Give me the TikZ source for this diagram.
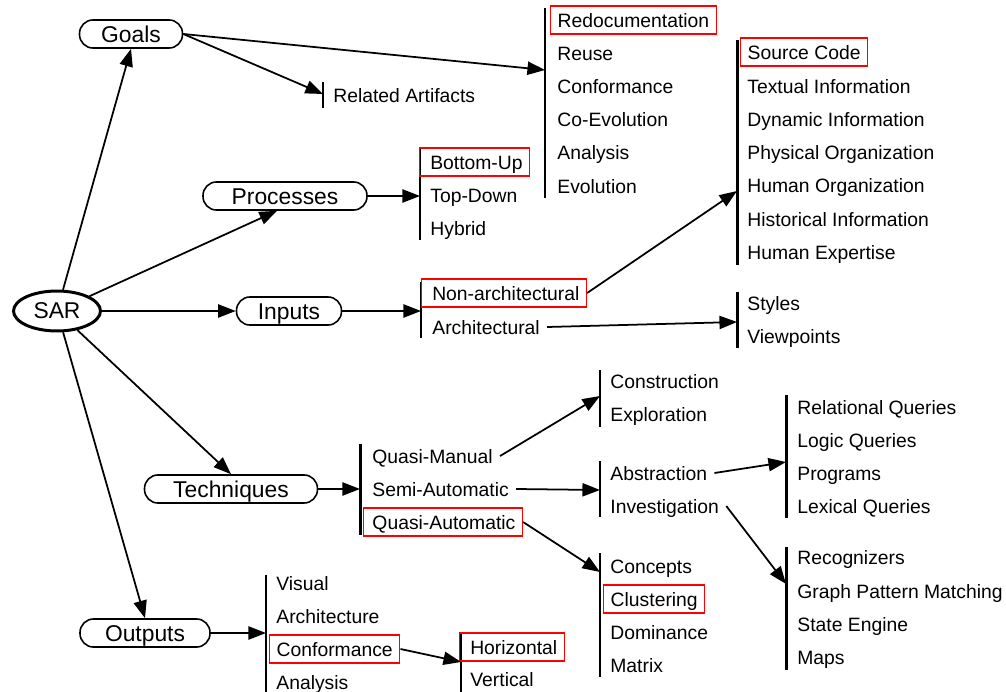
\documentclass[tikz,border=0pt]{standalone}
\usepackage{fontspec}
\setmainfont{Liberation Sans}
\usetikzlibrary{arrows.meta, shapes.geometric, positioning}

\tikzset{
  item/.style={anchor=west, inner xsep=4pt, inner ysep=4pt, text height=8pt, text depth=0pt, font=\fontsize{11}{13}\selectfont},
  hilite/.style={draw=red, line width=0.8pt},
  oval/.style={draw, rectangle, rounded corners=0.27cm, minimum height=0.56cm, inner xsep=0pt, line width=0.9pt, text height=9.3pt, text depth=0pt, font=\fontsize{13}{15}\selectfont},
  link/.style={-{Triangle[length=10pt,width=7.5pt]}, line width=1pt},
  thinbar/.style={line width=0.9pt},
  thickbar/.style={line width=1.7pt}
}

\begin{document}
\begin{tikzpicture}[x=0.02cm, y=-0.02cm]
  \useasboundingbox (0,0) rectangle (1006,692);

  % main nodes
  \node[draw, ellipse, line width=1.7pt, minimum width=1.74cm, minimum height=0.8cm, inner sep=0pt, font=\fontsize{13}{15}\selectfont] (sar) at (57,311) {SAR};
  \node[oval, minimum width=2.06cm] (goals) at (131,34) {Goals};
  \node[oval, minimum width=3.28cm] (processes) at (285,196) {Processes};
  \node[oval, minimum width=2.1cm] (inputs) at (289,311) {Inputs};
  \node[oval, minimum width=3.46cm] (techniques) at (231,489) {Techniques};
  \node[oval, minimum width=2.6cm] (outputs) at (145,633) {Outputs};

  % goals
  \draw[thinbar] (545,8) -- (545,198);
  \node[item, hilite] (redoc) at (550,20) {Redocumentation};
  \node[item] (reuse) at (550,53) {Reuse};
  \node[item] (goalconf) at (550,86) {Conformance};
  \node[item] (coevol) at (550,119) {Co-Evolution};
  \node[item] (goalanal) at (550,152) {Analysis};
  \node[item] (evol) at (550,186) {Evolution};
  \draw[thinbar] (323,82) -- (323,108);
  \node[item] (related) at (326,95) {Related Artifacts};

  % processes
  \draw[thinbar] (420,149) -- (420,240);
  \node[item, hilite] (bottomup) at (419,162) {\hspace{2pt}Bottom-Up};
  \node[item] (topdown) at (423,195) {Top-Down};
  \node[item] (hybrid) at (423,228) {Hybrid};

  % inputs
  \draw[thinbar] (421,282) -- (421,338);
  \node[item, hilite] (nonarch) at (421,293) {\hspace{2pt}Non-architectural};
  \node[item] (arch) at (425,327) {Architectural};
  \draw[thickbar] (737,40) -- (737,265);
  \node[item, hilite] (source) at (740,52) {Source Code};
  \node[item] (textual) at (740,86) {Textual Information};
  \node[item] (dynamic) at (740,119) {Dynamic Information};
  \node[item] (physical) at (740,152) {Physical Organization};
  \node[item] (humanorg) at (740,185) {Human Organization};
  \node[item] (historical) at (740,219) {Historical Information};
  \node[item] (expertise) at (740,252) {Human Expertise};
  \draw[thickbar] (737,292) -- (737,348);
  \node[item] (styles) at (740,303) {Styles};
  \node[item] (viewpoints) at (740,336) {Viewpoints};

  % techniques
  \draw[thickbar] (360,444) -- (360,535);
  \node[item] (quasiman) at (365,456) {Quasi-Manual};
  \node[item] (semiauto) at (365,489) {Semi-Automatic};
  \node[item, hilite] (quasiauto) at (363,522) {\hspace{1pt}Quasi-Automatic};
  \draw[thinbar] (600,370) -- (600,427);
  \node[item] (construction) at (603,381) {Construction};
  \node[item] (exploration) at (603,414) {Exploration};
  \draw[thinbar] (600,461) -- (600,517);
  \node[item] (abstraction) at (603,473) {Abstraction};
  \node[item] (investigation) at (603,506) {Investigation};
  \draw[thinbar] (600,553) -- (600,677);
  \node[item] (concepts) at (603,566) {Concepts};
  \node[item, hilite] (clustering) at (603,599) {Clustering};
  \node[item] (dominance) at (603,632) {Dominance};
  \node[item] (matrix) at (603,665) {Matrix};
  \draw[thickbar] (786,395) -- (786,518);
  \node[item] (relational) at (790,407) {Relational Queries};
  \node[item] (logic) at (790,440) {Logic Queries};
  \node[item] (programs) at (790,473) {Programs};
  \node[item] (lexical) at (790,506) {Lexical Queries};
  \draw[thickbar] (786,547) -- (786,670);
  \node[item] (recognizers) at (790,557) {Recognizers};
  \node[item] (graphmatch) at (790,591) {Graph Pattern Matching};
  \node[item] (stateengine) at (790,624) {State Engine};
  \node[item] (maps) at (790,657) {Maps};

  % outputs
  \draw[thinbar] (266,575) -- (266,692);
  \node[item] (visual) at (269,583) {Visual};
  \node[item] (architecture) at (269,616) {Architecture};
  \node[item, hilite] (outconf) at (269,649) {Conformance};
  \node[item] (outanal) at (269,682) {Analysis};
  \draw[thinbar] (461,633) -- (461,692);
  \node[item, hilite] (horizontal) at (459,647) {\hspace{2pt}Horizontal};
  \node[item] (vertical) at (463,679) {Vertical};

  % arrow ends on the bars
  \coordinate (goalsin) at (545,70);
  \coordinate (relin) at (323,94);
  \coordinate (procin) at (420,196);
  \coordinate (inpin) at (421,311);
  \coordinate (srcin) at (737,191);
  \coordinate (stylin) at (737,322);
  \coordinate (techin) at (360,489);
  \coordinate (consin) at (600,396);
  \coordinate (abstin) at (600,490);
  \coordinate (concin) at (600,572);
  \coordinate (relqin) at (786,462);
  \coordinate (recoin) at (786,584);
  \coordinate (outin) at (266,633);
  \coordinate (horzin) at (461,662);

  \draw[link] (sar) -- (goals.south);
  \draw[link] (sar) -- ([xshift=-0.16cm]processes.south);
  \draw[link] (sar) -- (inputs);
  \draw[link] (sar) -- (techniques.north);
  \draw[link] (sar) -- (outputs.north);
  \draw[link] (goals.east) -- (goalsin);
  \draw[link] (goals.east) -- (relin);
  \draw[link] (processes) -- (procin);
  \draw[link] (inputs) -- (inpin);
  \draw[link] (nonarch.east) -- (srcin);
  \draw[link] (arch.east) -- (stylin);
  \draw[link] (techniques) -- (techin);
  \draw[link] (quasiman.east) -- (consin);
  \draw[link] (semiauto.east) -- (abstin);
  \draw[link] (quasiauto.east) -- (concin);
  \draw[link] (abstraction.east) -- (relqin);
  \draw[link] (investigation.east) -- (recoin);
  \draw[link] (outputs) -- (outin);
  \draw[link] (outconf.east) -- (horzin);
\end{tikzpicture}
\end{document}
